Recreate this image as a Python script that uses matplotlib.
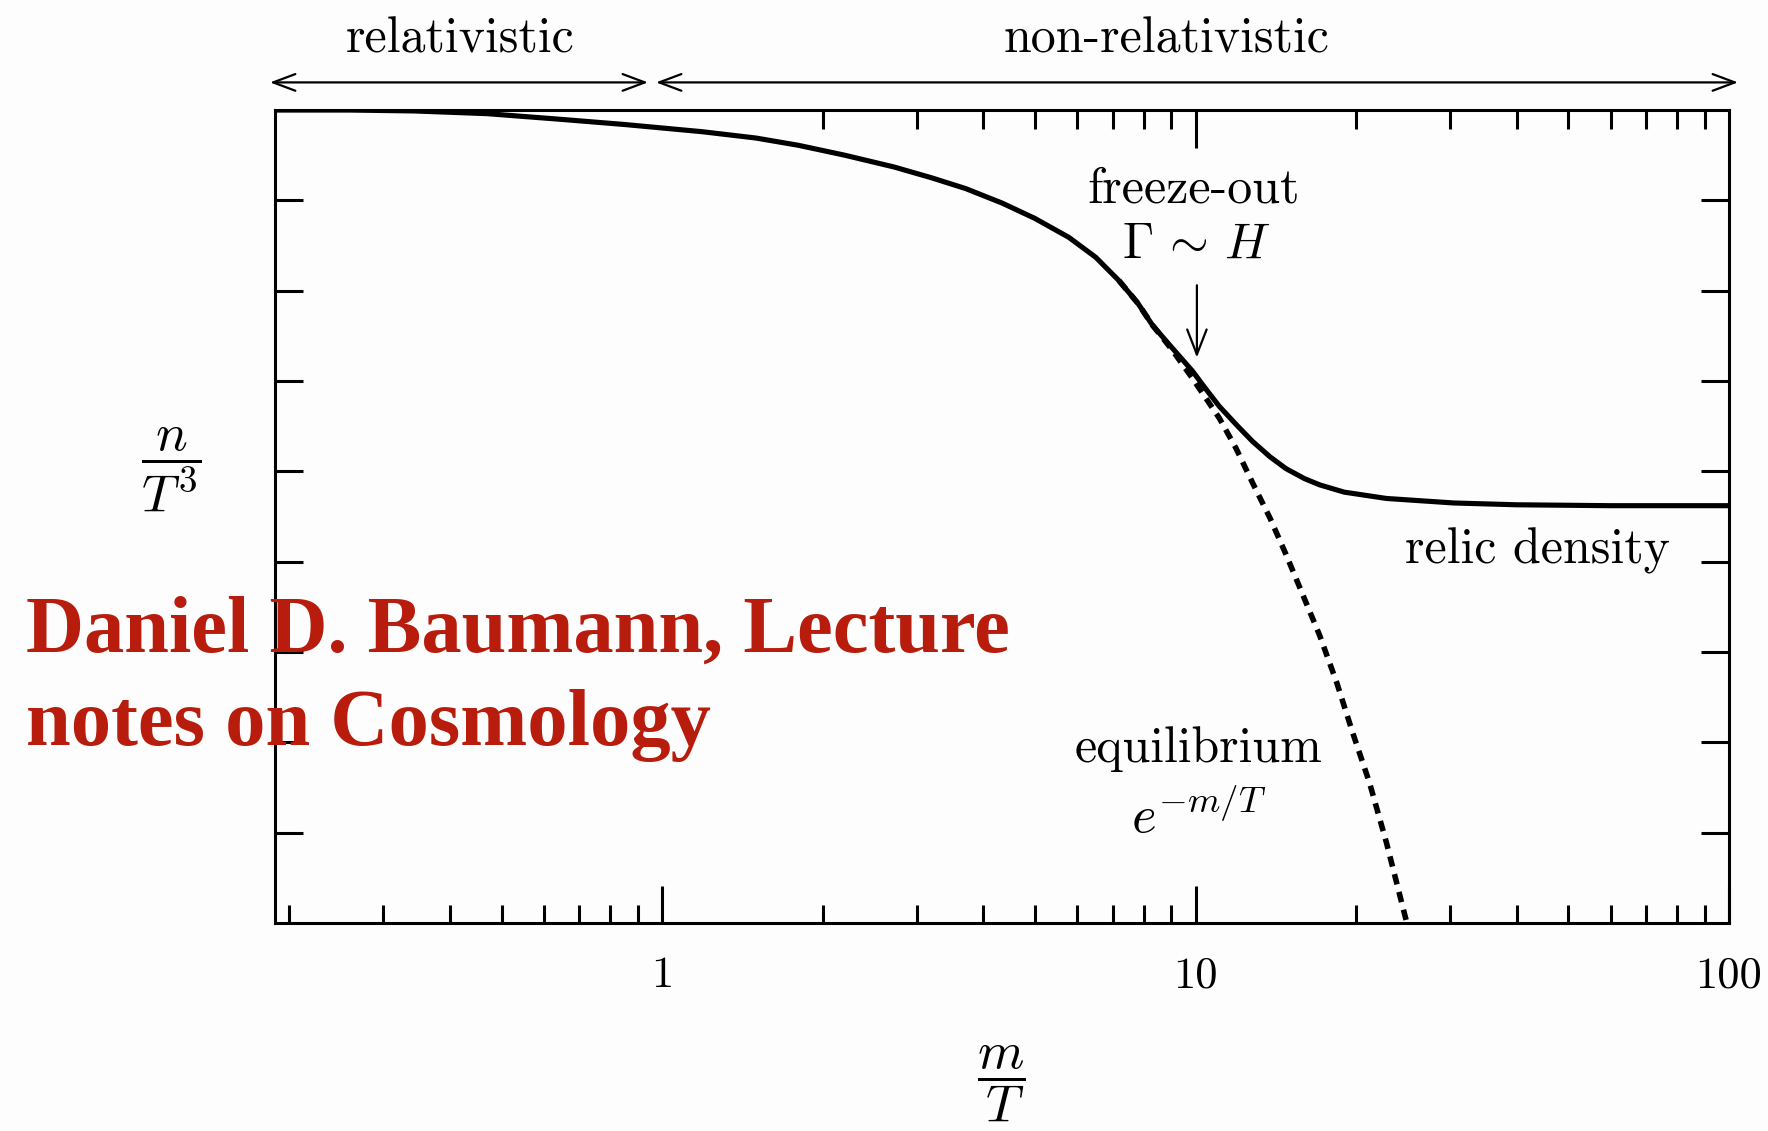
import matplotlib
matplotlib.use("Agg")
import matplotlib.pyplot as plt
from matplotlib.ticker import FixedLocator, NullFormatter, FixedFormatter

plt.rcParams['mathtext.fontset'] = 'cm'
plt.rcParams['axes.formatter.use_mathtext'] = True

# freeze-out curve: n/T^3 against m/T
x_solid = [0.188, 0.26, 0.343, 0.47, 0.637, 0.85, 1.19, 1.5, 1.80, 2.2, 2.72, 3.2,
           3.71, 4.34, 5.0, 5.79, 6.5, 7.19, 7.8, 8.3, 9.0, 9.87, 10.4, 11.08, 12.0,
           12.8, 13.8, 14.78, 16.0, 17.1, 19.0, 22.8, 30.5, 40.0, 60.0, 100.0]
y_solid = [9.0, 9.0, 8.99, 8.96, 8.90, 8.84, 8.76, 8.69, 8.61, 8.50, 8.37, 8.25,
           8.13, 7.97, 7.80, 7.59, 7.37, 7.11, 6.86, 6.62, 6.38, 6.11, 5.93, 5.72, 5.50,
           5.33, 5.16, 5.03, 4.92, 4.85, 4.77, 4.70, 4.65, 4.63, 4.62, 4.62]

# equilibrium curve e^{-m/T}
x_eq = [7.19, 7.8, 8.3, 9.0, 9.87, 11.08, 11.9, 12.8, 13.8, 14.78, 15.9, 17.1,
        18.4, 19.7, 21.2, 22.8, 24.9]
y_eq = [7.11, 6.86, 6.62, 6.36, 6.03, 5.59, 5.26, 4.87, 4.48, 4.08, 3.63, 3.18,
        2.66, 2.11, 1.55, 0.89, 0.0]

xtick_major = [1, 10, 100]
xtick_labels = ['1', '10', '100']
xtick_minor = [0.2, 0.3, 0.4, 0.5, 0.6, 0.7, 0.8, 0.9,
               2, 3, 4, 5, 6, 7, 8, 9,
               20, 30, 40, 50, 60, 70, 80, 90]
top_major = [10]
top_minor = [2, 3, 4, 5, 6, 7, 8, 9, 20, 30, 40, 50, 60, 70, 80, 90]
ytick_pos = [1, 2, 3, 4, 5, 6, 7, 8]

RM = 'cmr10'
FS = 36

fig = plt.figure(figsize=(17.68, 11.31), dpi=100)
fig.patch.set_facecolor('#fdfdfd')
ax = fig.add_axes([0.1555, 0.1839, 0.8224, 0.7188])
ax.set_facecolor('#fdfdfd')

ax.plot(x_eq, y_eq, color='black', lw=4.0, dashes=(1.9, 1.4), solid_capstyle='butt')
ax.plot(x_solid, y_solid, color='black', lw=3.7, solid_capstyle='round')

ax.set_xscale('log')
ax.set_xlim(0.188, 100)
ax.set_ylim(0, 9)

for s in ax.spines.values():
    s.set_linewidth(2.2)

ax.xaxis.set_major_locator(FixedLocator(xtick_major))
ax.xaxis.set_major_formatter(FixedFormatter(xtick_labels))
ax.xaxis.set_minor_locator(FixedLocator(xtick_minor))
ax.xaxis.set_minor_formatter(NullFormatter())
ax.tick_params(axis='x', which='major', direction='in', length=27, width=2.2,
               pad=24, labelsize=32, top=False)
ax.tick_params(axis='x', which='minor', direction='in', length=13, width=2.2, top=False)
for lab in ax.get_xticklabels():
    lab.set_fontfamily(RM)

ax.yaxis.set_major_locator(FixedLocator(ytick_pos))
ax.yaxis.set_minor_locator(FixedLocator([]))
ax.tick_params(axis='y', which='major', direction='in', length=20, width=2.2,
               left=True, right=True, labelleft=False)

# top axis only carries ticks from 2 upward
top = ax.twiny()
top.set_xscale('log')
top.set_xlim(ax.get_xlim())
top.xaxis.set_major_locator(FixedLocator(top_major))
top.xaxis.set_minor_locator(FixedLocator(top_minor))
top.xaxis.set_major_formatter(NullFormatter())
top.xaxis.set_minor_formatter(NullFormatter())
top.tick_params(axis='x', which='major', direction='in', length=27, width=2.2)
top.tick_params(axis='x', which='minor', direction='in', length=14, width=2.2)
for s in top.spines.values():
    s.set_visible(False)

# regime arrows above the frame
tr = ax.get_xaxis_transform()
arrow_kw = dict(arrowstyle='<->,head_length=0.8,head_width=0.3', lw=1.6,
                color='black', mutation_scale=20, shrinkA=0, shrinkB=0)
ax.annotate('', xy=(0.941, 1.034), xytext=(0.184, 1.034), xycoords=tr,
            textcoords=tr, arrowprops=arrow_kw, annotation_clip=False)
ax.annotate('', xy=(104.0, 1.034), xytext=(0.974, 1.034), xycoords=tr,
            textcoords=tr, arrowprops=arrow_kw, annotation_clip=False)
ax.text(0.418, 1.087, 'relativistic', transform=tr, ha='center', va='center',
        fontsize=FS, family=RM)
ax.text(8.83, 1.087, 'non-relativistic', transform=tr, ha='center', va='center',
        fontsize=FS, family=RM)

# freeze-out marker
ax.text(9.9, 7.98, 'freeze-out', ha='center', va='baseline', fontsize=FS, family=RM)
ax.text(10.05, 7.37, r'$\Gamma\,\sim\,H$', ha='center', va='baseline', fontsize=FS)
ax.annotate('', xy=(10.06, 6.26), xytext=(10.06, 7.06),
            arrowprops=dict(arrowstyle='->,head_length=0.9,head_width=0.35', lw=1.6,
                            color='black', mutation_scale=20, shrinkA=0, shrinkB=0))

ax.text(43.7, 3.98, 'relic density', ha='center', va='baseline', fontsize=FS, family=RM)
ax.text(10.13, 1.78, 'equilibrium', ha='center', va='baseline', fontsize=FS, family=RM)
ax.text(10.13, 1.0, r'$e^{-m/T}$', ha='center', va='baseline', fontsize=38)

# axis labels as fractions
ax.text(-0.0715, 5.02, r'$\dfrac{n}{T^3}$', transform=ax.get_yaxis_transform(),
        ha='center', va='center', fontsize=38)
ax.text(4.32, -0.198, r'$\dfrac{m}{T}$', transform=tr, ha='center', va='center',
        fontsize=38)

# credit line
fig.text(0.0147, 0.3413, 'Daniel D. Baumann, Lecture\nnotes on Cosmology',
         ha='left', va='baseline', fontsize=58, fontweight='bold',
         family='Liberation Serif', color='#B71C0C', linespacing=1.36)

fig.savefig('out.png', dpi=100, facecolor=fig.get_facecolor())
